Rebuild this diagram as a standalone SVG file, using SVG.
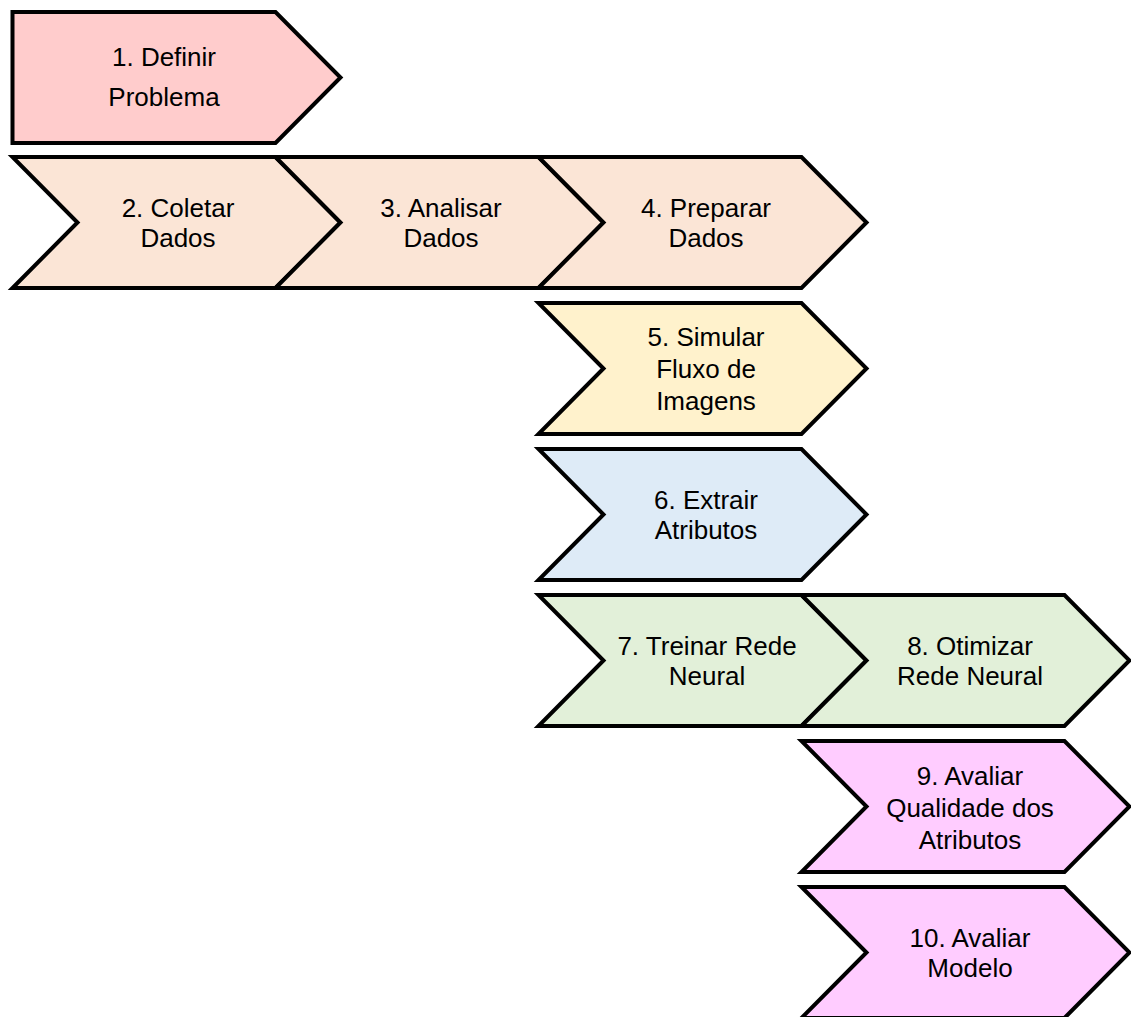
<svg xmlns="http://www.w3.org/2000/svg" width="1131" height="1017" viewBox="0 0 1131 1017">
  <style>
    .step { stroke: #000; stroke-width: 4; stroke-linejoin: miter; }
    .label { font-family: "Liberation Sans", Arial, sans-serif; font-size: 26px; fill: #000; text-anchor: middle; }
    .red { fill: #FFCCCC; }
    .peach { fill: #FBE5D6; }
    .yellow { fill: #FFF2CC; }
    .blue { fill: #DEEBF7; }
    .green { fill: #E2F0D9; }
    .pink { fill: #FFCCFF; }
  </style>
  <rect width="1131" height="1017" fill="#fff"/>

  <!-- Process steps drawn as chevrons; row pitch 146, column pitch 263 -->
  <g id="n1">
    <polygon class="step red" points="12.5,12 275.5,12 340.5,77.5 275.5,143 12.5,143"/>
    <text class="label" x="164" y="66">1. Definir</text>
    <text class="label" x="164" y="106">Problema</text>
  </g>
  <g id="n2">
    <polygon class="step peach" points="12.5,157 275.5,157 340.5,222.5 275.5,288 12.5,288 77.5,222.5"/>
    <text class="label" x="178" y="216.5">2. Coletar</text>
    <text class="label" x="178" y="246.5">Dados</text>
  </g>
  <g id="n3">
    <polygon class="step peach" points="275.5,157 538.5,157 603.5,222.5 538.5,288 275.5,288 340.5,222.5"/>
    <text class="label" x="441" y="216.5">3. Analisar</text>
    <text class="label" x="441" y="246.5">Dados</text>
  </g>
  <g id="n4">
    <polygon class="step peach" points="538.5,157 801.5,157 866.5,222.5 801.5,288 538.5,288 603.5,222.5"/>
    <text class="label" x="706" y="216.5">4. Preparar</text>
    <text class="label" x="706" y="246.5">Dados</text>
  </g>
  <g id="n5">
    <polygon class="step yellow" points="538.5,303 801.5,303 866.5,368.5 801.5,434 538.5,434 603.5,368.5"/>
    <text class="label" x="706" y="345.5">5. Simular</text>
    <text class="label" x="706" y="377.5">Fluxo de</text>
    <text class="label" x="706" y="409.5">Imagens</text>
  </g>
  <g id="n6">
    <polygon class="step blue" points="538.5,449 801.5,449 866.5,514.5 801.5,580 538.5,580 603.5,514.5"/>
    <text class="label" x="706" y="508.5">6. Extrair</text>
    <text class="label" x="706" y="538.5">Atributos</text>
  </g>
  <g id="n7">
    <polygon class="step green" points="538.5,595 801.5,595 866.5,660.5 801.5,726 538.5,726 603.5,660.5"/>
    <text class="label" x="707" y="654.5">7. Treinar Rede</text>
    <text class="label" x="707" y="684.5">Neural</text>
  </g>
  <g id="n8">
    <polygon class="step green" points="801.5,595 1064.5,595 1129.5,660.5 1064.5,726 801.5,726 866.5,660.5"/>
    <text class="label" x="970" y="654.5">8. Otimizar</text>
    <text class="label" x="970" y="684.5">Rede Neural</text>
  </g>
  <g id="n9">
    <polygon class="step pink" points="801.5,741 1064.5,741 1129.5,806.5 1064.5,872 801.5,872 866.5,806.5"/>
    <text class="label" x="970" y="784.5">9. Avaliar</text>
    <text class="label" x="970" y="816.5">Qualidade dos</text>
    <text class="label" x="970" y="848.5">Atributos</text>
  </g>
  <g id="n10">
    <polygon class="step pink" points="801.5,887 1064.5,887 1129.5,952.5 1064.5,1018 801.5,1018 866.5,952.5"/>
    <text class="label" x="970" y="946.5">10. Avaliar</text>
    <text class="label" x="970" y="976.5">Modelo</text>
  </g>

  <!-- No explicit connectors: the chevrons abut to show the sequence -->
  <g id="connectors"/>
</svg>
